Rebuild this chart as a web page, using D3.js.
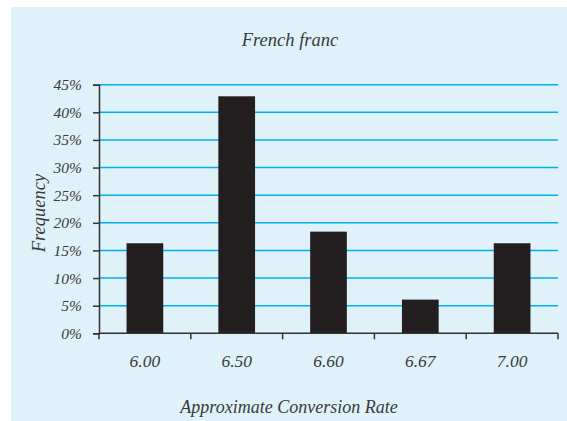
<!DOCTYPE html>
<html>
<head>
<meta charset="utf-8">
<script src="https://cdn.jsdelivr.net/npm/d3@7"></script>
<style>
  html, body { margin: 0; padding: 0; background: #ffffff; }
  svg { display: block; }
  text { font-family: "Liberation Serif", "DejaVu Serif", serif; font-style: italic; fill: #3a3a3a; }
</style>
</head>
<body>
<svg id="chart" width="567" height="421"></svg>
<script>
// Conversion-rate buckets and share of observations in each
const categories = ["6.00", "6.50", "6.60", "6.67", "7.00"];
const frequencies = [0.163, 0.429, 0.184, 0.061, 0.163];
const yTicks = [0, 0.05, 0.10, 0.15, 0.20, 0.25, 0.30, 0.35, 0.40, 0.45];

const chartTitle = "French franc";
const xTitle = "Approximate Conversion Rate";
const yTitle = "Frequency";

const svg = d3.select("#chart");

// light blue panel
svg.append("rect")
  .attr("x", 11).attr("y", 7)
  .attr("width", 556).attr("height", 414)
  .attr("fill", "#dff2fa");

const plotLeft = 99, plotRight = 558, plotTop = 84.7, plotBottom = 333.3;

const x = d3.scaleBand().domain(categories).range([plotLeft, plotRight]).padding(0);
const y = d3.scaleLinear().domain([0, 0.45]).range([plotBottom, plotTop]);

// horizontal gridlines
svg.append("g")
  .selectAll("line")
  .data(yTicks.filter(d => d > 0))
  .join("line")
  .attr("x1", plotLeft).attr("x2", plotRight)
  .attr("y1", d => y(d)).attr("y2", d => y(d))
  .attr("stroke", "#00aeef")
  .attr("stroke-width", 1.4);

// bars
const barFrac = 0.4;
svg.append("g")
  .selectAll("rect")
  .data(categories.map((c, i) => ({ c, v: frequencies[i] })))
  .join("rect")
  .attr("x", d => x(d.c) + x.bandwidth() * (1 - barFrac) / 2)
  .attr("width", x.bandwidth() * barFrac)
  .attr("y", d => y(d.v))
  .attr("height", d => plotBottom - y(d.v))
  .attr("fill", "#231f20");

// y axis
const yAxis = svg.append("g")
  .attr("transform", `translate(${plotLeft},0)`)
  .call(d3.axisLeft(y).tickValues(yTicks).tickFormat(d3.format(".0%")).tickSize(6).tickPadding(11));
yAxis.select(".domain").attr("stroke", "#333").attr("stroke-width", 1.5);
yAxis.selectAll(".tick line").attr("stroke", "#333").attr("stroke-width", 1.5);
yAxis.attr("font-family", null).attr("font-size", null);
yAxis.selectAll(".tick text")
  .attr("font-size", 15.5)
  .attr("fill", "#3a3a3a");

// x axis: baseline with ticks at bucket boundaries
const boundaries = categories.map(c => x(c)).concat([x(categories[categories.length - 1]) + x.bandwidth()]);
const xAxisG = svg.append("g");
xAxisG.append("line")
  .attr("x1", plotLeft).attr("x2", plotRight)
  .attr("y1", plotBottom).attr("y2", plotBottom)
  .attr("stroke", "#333").attr("stroke-width", 1.5);
xAxisG.selectAll("line.bt")
  .data(boundaries)
  .join("line")
  .attr("class", "bt")
  .attr("x1", d => d).attr("x2", d => d)
  .attr("y1", plotBottom).attr("y2", plotBottom + 6)
  .attr("stroke", "#333").attr("stroke-width", 1.5);
xAxisG.selectAll("text")
  .data(categories)
  .join("text")
  .attr("x", d => x(d) + x.bandwidth() / 2)
  .attr("y", 367)
  .attr("text-anchor", "middle")
  .attr("font-size", 17.5)
  .text(d => d);

// titles
svg.append("text")
  .attr("x", 290).attr("y", 46)
  .attr("text-anchor", "middle")
  .attr("font-size", 18.5)
  .text(chartTitle);

svg.append("text")
  .attr("x", 289).attr("y", 413)
  .attr("text-anchor", "middle")
  .attr("font-size", 18)
  .text(xTitle);

svg.append("text")
  .attr("transform", "translate(45,213) rotate(-90)")
  .attr("text-anchor", "middle")
  .attr("font-size", 18.5)
  .text(yTitle);
</script>
</body>
</html>
